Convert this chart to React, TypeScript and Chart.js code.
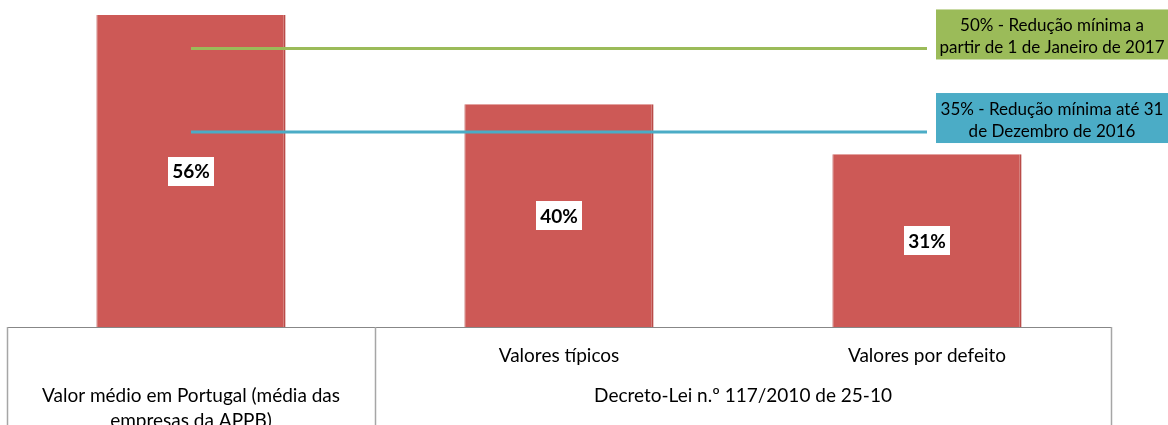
import React, { useEffect, useRef } from "react";
import { Chart, registerables } from "chart.js";

Chart.register(...registerables);

const categories = ["Valor médio em Portugal", "Valores típicos", "Valores por defeito"];
const barValues = [0.56, 0.40, 0.31];
const barLabels = ["56%", "40%", "31%"];
const target2017 = [0.5, 0.5, 0.5];
const target2016 = [0.35, 0.35, 0.35];
const target2017Text = ["50% - Redução mínima a", "partir de 1 de Janeiro de 2017"];
const target2016Text = ["35% - Redução mínima até 31", "de Dezembro de 2016"];
const level1Labels = ["", "Valores típicos", "Valores por defeito"];
const level2Groups = [
  { from: 0, to: 0, lines: ["Valor médio em Portugal (média das", "empresas da APPB)"] },
  { from: 1, to: 2, lines: ["Decreto-Lei n.º 117/2010 de 25-10"] },
];
const yMax = 0.587;

const FONT = "Lato, 'Open Sans', sans-serif";

const overlayPlugin = {
  id: "overlay",
  afterDatasetsDraw(chart: any) {
    const ctx = chart.ctx as CanvasRenderingContext2D;
    const area = chart.chartArea;
    const x = chart.scales.x;
    const meta = chart.getDatasetMeta(0);
    ctx.save();
    // bar value labels
    meta.data.forEach((bar: any, i: number) => {
      const cx = bar.x;
      const cy = (bar.y + bar.base) / 2;
      ctx.font = `bold 19px ${FONT}`;
      const w = ctx.measureText(barLabels[i]).width + 8;
      const h = 29;
      ctx.fillStyle = "#ffffff";
      ctx.fillRect(Math.round(cx - w / 2), Math.round(cy - h / 2), Math.round(w), h);
      ctx.fillStyle = "#000000";
      ctx.textAlign = "center";
      ctx.textBaseline = "middle";
      ctx.fillText(barLabels[i], cx, cy + 1);
    });

    // annotation boxes
    const boxes = [
      { ds: 1, text: target2017Text, color: "#9BBB59" },
      { ds: 2, text: target2016Text, color: "#4BACC6" },
    ];
    boxes.forEach((b) => {
      const m = chart.getDatasetMeta(b.ds);
      const last = m.data[m.data.length - 1];
      const left = last.x + 9;
      const right = chart.width;
      const ly = last.y;
      const top = ly - 39;
      const h = 50;
      ctx.fillStyle = b.color;
      ctx.fillRect(left, top, right - left, h);
      ctx.fillStyle = "#000000";
      ctx.font = `17px ${FONT}`;
      ctx.textAlign = "center";
      ctx.textBaseline = "middle";
      const cx = (left + right) / 2;
      ctx.fillText(b.text[0], cx, top + 16);
      ctx.fillText(b.text[1], cx, top + 38);
    });

    // multi-level category axis table
    const bottom = area.bottom;
    const half = (x.getPixelForValue(1) - x.getPixelForValue(0)) / 2;
    const edges = categories.map((_, i) => x.getPixelForValue(i) - half);
    edges.push(x.getPixelForValue(categories.length - 1) + half);
    ctx.strokeStyle = "#878787";
    ctx.lineWidth = 1;
    ctx.beginPath();
    ctx.moveTo(area.left, bottom + 0.5);
    ctx.lineTo(area.right, bottom + 0.5);
    ctx.stroke();
    ctx.strokeStyle = "#A6A6A6";
    ctx.lineWidth = 1.5;
    const vlines = [edges[0], edges[1], edges[edges.length - 1]];
    vlines.forEach((vx) => {
      ctx.beginPath();
      ctx.moveTo(Math.round(vx) + 0.5, bottom);
      ctx.lineTo(Math.round(vx) + 0.5, chart.height);
      ctx.stroke();
    });
    ctx.fillStyle = "#000000";
    ctx.font = `19px ${FONT}`;
    ctx.textAlign = "center";
    ctx.textBaseline = "middle";
    level1Labels.forEach((lab, i) => {
      if (lab) ctx.fillText(lab, x.getPixelForValue(i), bottom + 29);
    });
    level2Groups.forEach((g) => {
      const cx = (edges[g.from] + edges[g.to + 1]) / 2;
      g.lines.forEach((ln, k) => {
        ctx.fillText(ln, cx, bottom + 69 + k * 25);
      });
    });
    ctx.restore();
  },
};

export default function App() {
  const ref = useRef<HTMLCanvasElement | null>(null);
  useEffect(() => {
    document.body.style.margin = "0";
    const canvas = ref.current!;
    const chart = new Chart(canvas, {
      type: "bar",
      data: {
        labels: categories,
        datasets: [
          {
            type: "bar",
            data: barValues,
            backgroundColor: "#CD5956",
            borderColor: "#B94B48",
            borderWidth: { top: 0, left: 1, right: 2, bottom: 0 } as any,
            categoryPercentage: 1,
            barPercentage: 0.514,
            order: 2,
          },
          {
            type: "line",
            data: target2017,
            borderColor: "#9BBB59",
            borderWidth: 3,
            pointRadius: 0,
            order: 1,
          },
          {
            type: "line",
            data: target2016,
            borderColor: "#4BACC6",
            borderWidth: 3,
            pointRadius: 0,
            order: 1,
          },
        ],
      },
      options: {
        animation: false,
        responsive: false,
        layout: { padding: { left: 7, right: 57, top: 0, bottom: 98 } },
        plugins: { legend: { display: false }, tooltip: { enabled: false } },
        scales: {
          x: { display: false },
          y: { display: false, min: 0, max: yMax },
        },
      },
      plugins: [overlayPlugin],
    });
    return () => chart.destroy();
  }, []);
  return <canvas ref={ref} width={1168} height={425} style={{ display: "block" }} />;
}
